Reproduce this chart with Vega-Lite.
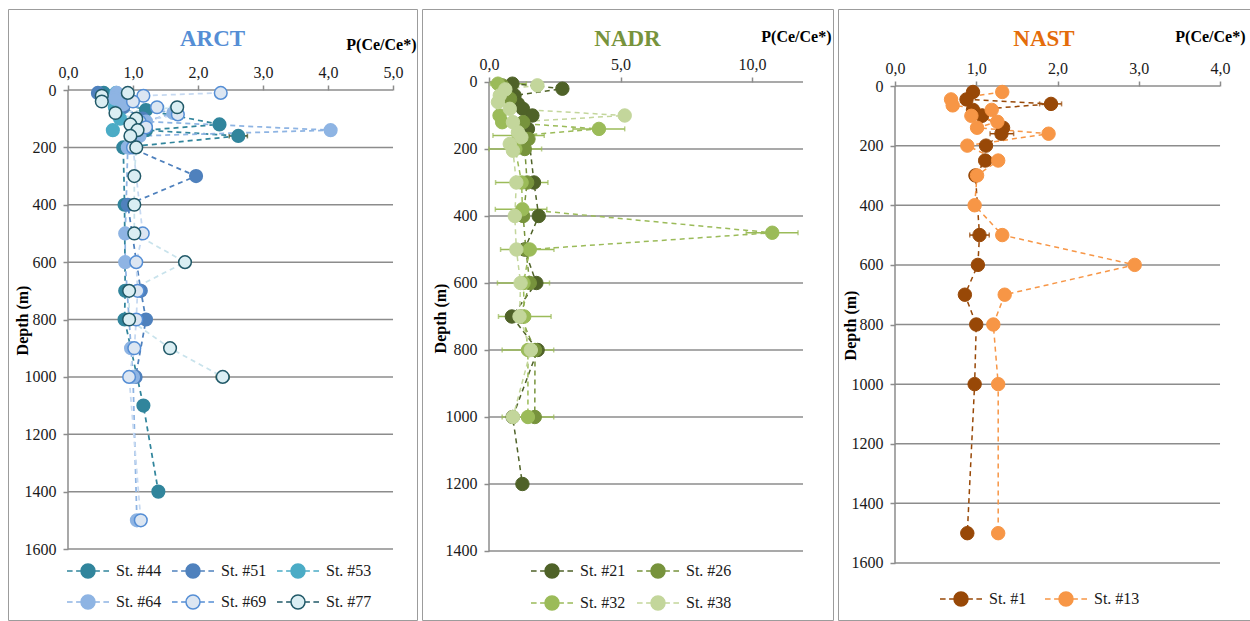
{
"$schema": "https://vega.github.io/schema/vega-lite/v6.json",
"padding": {"left": 7, "top": 8, "right": 0, "bottom": 0},
"spacing": 3,
"config": {
  "view": {"stroke": "#9C9C9C", "strokeWidth": 1},
  "font": "Liberation Serif",
  "style": {"guide-label": {"font": "Liberation Serif"}, "guide-title": {"font": "Liberation Serif"}},
  "axis": {"grid": false, "domain": false, "tickColor": "#8C8C8C", "tickWidth": 1.5, "tickSize": 5, "labelFont": "Liberation Serif", "labelFontSize": 16, "labelColor": "#1a1a1a", "labelFlush": false, "labelOverlap": false, "titleFont": "Liberation Serif", "titleFontSize": 16, "titleFontWeight": "bold", "titleColor": "#000000", "titleBaseline": "middle"},
  "legend": {"padding": 0, "labelFont": "Liberation Serif", "labelFontSize": 16, "labelColor": "#1a1a1a", "labelOffset": 20, "symbolSize": 196, "symbolStrokeWidth": 1.5, "direction": "horizontal", "symbolType": "M-3,0H-2.2M-1.7,0H-1M1,0H1.7M2.2,0H3M-1,0A1,1,0,1,0,1,0A1,1,0,1,0,-1,0Z"}
},
"datasets": {
  "g16": [{"g":0},{"g":200},{"g":400},{"g":600},{"g":800},{"g":1000},{"g":1200},{"g":1400},{"g":1600}],
  "g14": [{"g":0},{"g":200},{"g":400},{"g":600},{"g":800},{"g":1000},{"g":1200},{"g":1400}],
  "arct": [
    {"st":"St. #44","d":10,"v":0.55},{"st":"St. #44","d":40,"v":0.75},{"st":"St. #44","d":70,"v":1.2},{"st":"St. #44","d":120,"v":2.33},{"st":"St. #44","d":140,"v":1.2},{"st":"St. #44","d":160,"v":2.62,"lo":2.48,"hi":2.76},{"st":"St. #44","d":200,"v":0.85},{"st":"St. #44","d":400,"v":0.87},{"st":"St. #44","d":700,"v":0.88},{"st":"St. #44","d":800,"v":0.87},{"st":"St. #44","d":1100,"v":1.16},{"st":"St. #44","d":1400,"v":1.39},
    {"st":"St. #51","d":10,"v":0.46},{"st":"St. #51","d":30,"v":0.72},{"st":"St. #51","d":60,"v":0.85},{"st":"St. #51","d":100,"v":1.15},{"st":"St. #51","d":140,"v":1.05},{"st":"St. #51","d":200,"v":0.95},{"st":"St. #51","d":300,"v":1.97},{"st":"St. #51","d":400,"v":0.92},{"st":"St. #51","d":700,"v":1.12},{"st":"St. #51","d":800,"v":1.2},{"st":"St. #51","d":1000,"v":1.04},
    {"st":"St. #53","d":10,"v":0.74},{"st":"St. #53","d":30,"v":0.7},{"st":"St. #53","d":60,"v":0.72},{"st":"St. #53","d":100,"v":0.8},{"st":"St. #53","d":140,"v":0.69},
    {"st":"St. #64","d":10,"v":0.75},{"st":"St. #64","d":30,"v":0.72},{"st":"St. #64","d":50,"v":0.85},{"st":"St. #64","d":80,"v":1.62},{"st":"St. #64","d":110,"v":1.2},{"st":"St. #64","d":140,"v":4.04},{"st":"St. #64","d":160,"v":1.1},{"st":"St. #64","d":200,"v":0.92},{"st":"St. #64","d":500,"v":0.88},{"st":"St. #64","d":600,"v":0.88},{"st":"St. #64","d":900,"v":0.97},{"st":"St. #64","d":1000,"v":1.0},{"st":"St. #64","d":1500,"v":1.06},
    {"st":"St. #69","d":10,"v":2.35},{"st":"St. #69","d":20,"v":1.16},{"st":"St. #69","d":40,"v":1.0},{"st":"St. #69","d":60,"v":1.37},{"st":"St. #69","d":85,"v":1.69},{"st":"St. #69","d":110,"v":1.1},{"st":"St. #69","d":130,"v":1.2},{"st":"St. #69","d":200,"v":1.0},{"st":"St. #69","d":500,"v":1.15},{"st":"St. #69","d":600,"v":1.05},{"st":"St. #69","d":700,"v":1.07},{"st":"St. #69","d":800,"v":1.05},{"st":"St. #69","d":900,"v":1.02},{"st":"St. #69","d":1000,"v":0.94},{"st":"St. #69","d":1500,"v":1.12},
    {"st":"St. #77","d":10,"v":0.92},{"st":"St. #77","d":20,"v":0.52},{"st":"St. #77","d":40,"v":0.52},{"st":"St. #77","d":60,"v":1.68},{"st":"St. #77","d":80,"v":0.73},{"st":"St. #77","d":100,"v":1.05},{"st":"St. #77","d":120,"v":0.96},{"st":"St. #77","d":140,"v":1.07},{"st":"St. #77","d":160,"v":0.96},{"st":"St. #77","d":200,"v":1.05},{"st":"St. #77","d":300,"v":1.02},{"st":"St. #77","d":400,"v":1.02},{"st":"St. #77","d":500,"v":1.02},{"st":"St. #77","d":600,"v":1.8},{"st":"St. #77","d":700,"v":0.94},{"st":"St. #77","d":800,"v":0.94},{"st":"St. #77","d":900,"v":1.57},{"st":"St. #77","d":1000,"v":2.38,"lo":2.28,"hi":2.48}
  ],
  "nadr": [
    {"st":"St. #21","d":5,"v":0.89},{"st":"St. #21","d":20,"v":2.79},{"st":"St. #21","d":40,"v":0.97},{"st":"St. #21","d":65,"v":1.1},{"st":"St. #21","d":80,"v":1.29},{"st":"St. #21","d":100,"v":1.65},{"st":"St. #21","d":140,"v":1.48},{"st":"St. #21","d":300,"v":1.71},{"st":"St. #21","d":400,"v":1.89},{"st":"St. #21","d":500,"v":1.35},{"st":"St. #21","d":600,"v":1.8},{"st":"St. #21","d":700,"v":0.87},{"st":"St. #21","d":800,"v":1.85},{"st":"St. #21","d":1000,"v":0.9},{"st":"St. #21","d":1200,"v":1.27},
    {"st":"St. #26","d":10,"v":0.5},{"st":"St. #26","d":50,"v":0.8},{"st":"St. #26","d":120,"v":1.3},{"st":"St. #26","d":170,"v":1.5},{"st":"St. #26","d":200,"v":1.36},{"st":"St. #26","d":300,"v":1.45},{"st":"St. #26","d":400,"v":1.3},{"st":"St. #26","d":500,"v":1.4},{"st":"St. #26","d":600,"v":1.55},{"st":"St. #26","d":700,"v":1.2},{"st":"St. #26","d":800,"v":1.75},{"st":"St. #26","d":1000,"v":1.74},
    {"st":"St. #32","d":5,"v":0.34,"lo":0.05,"hi":1.42},{"st":"St. #32","d":100,"v":0.4},{"st":"St. #32","d":120,"v":0.5},{"st":"St. #32","d":140,"v":4.18,"lo":3.19,"hi":5.16},{"st":"St. #32","d":160,"v":1.13,"lo":0.15,"hi":2.1},{"st":"St. #32","d":200,"v":1.0,"lo":0.0,"hi":2.0},{"st":"St. #32","d":300,"v":1.24,"lo":0.25,"hi":2.24},{"st":"St. #32","d":380,"v":1.27,"lo":0.24,"hi":2.2},{"st":"St. #32","d":450,"v":10.77,"lo":9.78,"hi":11.75},{"st":"St. #32","d":500,"v":1.55,"lo":0.44,"hi":2.47},{"st":"St. #32","d":600,"v":1.31,"lo":0.32,"hi":2.3},{"st":"St. #32","d":700,"v":1.34,"lo":0.36,"hi":2.36},{"st":"St. #32","d":800,"v":1.48,"lo":0.5,"hi":2.46},{"st":"St. #32","d":1000,"v":1.48,"lo":0.5,"hi":2.46},
    {"st":"St. #38","d":10,"v":1.84},{"st":"St. #38","d":22,"v":0.62},{"st":"St. #38","d":40,"v":0.41},{"st":"St. #38","d":60,"v":0.34},{"st":"St. #38","d":80,"v":0.79},{"st":"St. #38","d":100,"v":5.16},{"st":"St. #38","d":120,"v":0.91},{"st":"St. #38","d":150,"v":1.1},{"st":"St. #38","d":165,"v":1.23},{"st":"St. #38","d":185,"v":0.79},{"st":"St. #38","d":205,"v":0.91},{"st":"St. #38","d":300,"v":1.04},{"st":"St. #38","d":400,"v":0.98},{"st":"St. #38","d":500,"v":1.04},{"st":"St. #38","d":600,"v":1.2},{"st":"St. #38","d":700,"v":1.16},{"st":"St. #38","d":800,"v":1.59},{"st":"St. #38","d":1000,"v":0.91}
  ],
  "nast": [
    {"st":"St. #1","d":20,"v":0.96},{"st":"St. #1","d":45,"v":0.88},{"st":"St. #1","d":60,"v":1.92,"lo":1.78,"hi":2.05},{"st":"St. #1","d":80,"v":0.96},{"st":"St. #1","d":100,"v":1.07,"lo":1.02,"hi":1.12},{"st":"St. #1","d":140,"v":1.33},{"st":"St. #1","d":160,"v":1.31,"lo":1.17,"hi":1.46},{"st":"St. #1","d":200,"v":1.12},{"st":"St. #1","d":250,"v":1.11,"lo":1.04,"hi":1.18},{"st":"St. #1","d":300,"v":0.99,"lo":0.92,"hi":1.06},{"st":"St. #1","d":500,"v":1.04,"lo":0.92,"hi":1.16},{"st":"St. #1","d":600,"v":1.02},{"st":"St. #1","d":700,"v":0.86},{"st":"St. #1","d":800,"v":1.0},{"st":"St. #1","d":1000,"v":0.98},{"st":"St. #1","d":1500,"v":0.89},
    {"st":"St. #13","d":20,"v":1.32},{"st":"St. #13","d":45,"v":0.69},{"st":"St. #13","d":65,"v":0.71},{"st":"St. #13","d":80,"v":1.19},{"st":"St. #13","d":100,"v":0.94},{"st":"St. #13","d":120,"v":1.26},{"st":"St. #13","d":140,"v":1.01},{"st":"St. #13","d":160,"v":1.89},{"st":"St. #13","d":200,"v":0.89},{"st":"St. #13","d":250,"v":1.27},{"st":"St. #13","d":300,"v":1.01},{"st":"St. #13","d":400,"v":0.98},{"st":"St. #13","d":500,"v":1.32},{"st":"St. #13","d":600,"v":2.95},{"st":"St. #13","d":700,"v":1.35},{"st":"St. #13","d":800,"v":1.21},{"st":"St. #13","d":1000,"v":1.27},{"st":"St. #13","d":1500,"v":1.27}
  ]
},
"resolve": {"scale": {"x": "independent", "y": "independent", "color": "independent", "fill": "independent", "stroke": "independent"}},
"hconcat": [
  {
    "width": 409, "height": 611,
    "title": {"text": "ARCT", "color": "#558ED5", "font": "Liberation Serif", "fontSize": 23, "fontWeight": "bold", "offset": -53, "baseline": "middle", "anchor": "middle", "frame": "group"},
    "layer": [
      {"data": {"name": "g16"}, "mark": {"type": "rule", "color": "#8C8C8C", "strokeWidth": 1.5},
       "encoding": {
         "y": {"field": "g", "type": "quantitative", "scale": {"domain": [-282.4, 1847.5], "nice": false, "zero": false, "reverse": true}, "axis": {"orient": "left", "offset": -60, "values": [0,200,400,600,800,1000,1200,1400,1600], "format": "d", "labelPadding": 7, "title": "Depth (m)", "titleX": -46, "titleY": 311, "titleAlign": "center"}},
         "x": {"datum": 0, "type": "quantitative", "scale": {"domain": [-0.923, 5.369], "nice": false, "zero": false}, "axis": {"orient": "top", "offset": -81, "values": [0,1,2,3,4,5], "labelExpr": "replace(format(datum.value,'.1f'),'.',',')", "labelPadding": 5, "title": "P(Ce/Ce*)", "titleX": 408, "titleY": -46, "titleAlign": "right"}},
         "x2": {"datum": 5}}},
      {"data": {"name": "g16"}, "mark": {"type": "rule", "color": "#8C8C8C", "strokeWidth": 1.5},
       "encoding": {"x": {"datum": 0, "type": "quantitative"}, "y": {"aggregate": "min", "field": "g", "type": "quantitative"}, "y2": {"aggregate": "max", "field": "g"}}},
      {"data": {"name": "arct"}, "transform": [{"filter": "isValid(datum.lo)"}], "mark": {"type": "errorbar", "ticks": true, "color": "#3F4A20", "thickness": 1.5},
       "encoding": {"x": {"field": "lo", "type": "quantitative", "title": "P(Ce/Ce*)"}, "x2": {"field": "hi"}, "y": {"field": "d", "type": "quantitative", "title": "Depth (m)"}}},
      {"data": {"name": "arct"}, "mark": {"type": "line", "strokeDash": [5, 4], "strokeWidth": 1.75},
       "encoding": {"x": {"field": "v", "type": "quantitative", "title": "P(Ce/Ce*)"}, "y": {"field": "d", "type": "quantitative", "title": "Depth (m)"}, "order": {"field": "d"},
         "color": {"field": "st", "type": "nominal", "scale": {"domain": ["St. #77","St. #69","St. #64","St. #53","St. #51","St. #44"], "range": ["#C9E3EC","#C6D9F1","#8EB4E3","#4BACC6","#4F81BD","#31859C"]}, "legend": null}}},
      {"data": {"name": "arct"}, "mark": {"type": "circle", "size": 160, "opacity": 1, "strokeWidth": 1.5},
       "encoding": {"x": {"field": "v", "type": "quantitative", "title": "P(Ce/Ce*)"}, "y": {"field": "d", "type": "quantitative", "title": "Depth (m)"},
         "fill": {"field": "st", "type": "nominal", "scale": {"domain": ["St. #44","St. #51","St. #53","St. #64","St. #69","St. #77"], "range": ["#31859C","#4F81BD","#4BACC6","#8EB4E3","#DCE6F2","#DAEEF3"]}, "legend": {"title": null, "orient": "none", "legendX": 72, "legendY": 554, "columns": 3, "direction": "horizontal", "rowPadding": 11, "columnPadding": 7, "labelFont": "Liberation Serif", "labelFontSize": 16}},
         "stroke": {"field": "st", "type": "nominal", "scale": {"domain": ["St. #44","St. #51","St. #53","St. #64","St. #69","St. #77"], "range": ["#31859C","#4F81BD","#4BACC6","#8EB4E3","#558ED5","#215968"]}, "legend": {"title": null, "orient": "none", "legendX": 72, "legendY": 554, "columns": 3, "direction": "horizontal", "rowPadding": 11, "columnPadding": 7, "labelFont": "Liberation Serif", "labelFontSize": 16}}}}
    ]
  },
  {
    "width": 411, "height": 611,
    "title": {"text": "NADR", "color": "#77933C", "font": "Liberation Serif", "fontSize": 23, "fontWeight": "bold", "offset": -53, "baseline": "middle", "anchor": "middle", "frame": "group"},
    "layer": [
      {"data": {"name": "g14"}, "mark": {"type": "rule", "color": "#8C8C8C", "strokeWidth": 1.5},
       "encoding": {
         "y": {"field": "g", "type": "quantitative", "scale": {"domain": [-217.9, 1606], "nice": false, "zero": false, "reverse": true}, "axis": {"orient": "left", "offset": -67, "values": [0,200,400,600,800,1000,1200,1400], "format": "d", "labelPadding": 7, "title": "Depth (m)", "titleX": -49, "titleY": 309, "titleAlign": "center"}},
         "x": {"datum": 0, "type": "quantitative", "scale": {"domain": [-2.548, 13.08], "nice": false, "zero": false}, "axis": {"orient": "top", "offset": -73, "values": [0,5,10], "labelExpr": "replace(format(datum.value,'.1f'),'.',',')", "labelPadding": 5, "title": "P(Ce/Ce*)", "titleX": 409, "titleY": -46, "titleAlign": "right"}},
         "x2": {"datum": 11.94}}},
      {"data": {"name": "g14"}, "mark": {"type": "rule", "color": "#8C8C8C", "strokeWidth": 1.5},
       "encoding": {"x": {"datum": 0, "type": "quantitative"}, "y": {"aggregate": "min", "field": "g", "type": "quantitative"}, "y2": {"aggregate": "max", "field": "g"}}},
      {"data": {"name": "nadr"}, "transform": [{"filter": "isValid(datum.lo)"}], "mark": {"type": "errorbar", "ticks": true, "color": "#9BBB59", "thickness": 1.5},
       "encoding": {"x": {"field": "lo", "type": "quantitative", "title": "P(Ce/Ce*)"}, "x2": {"field": "hi"}, "y": {"field": "d", "type": "quantitative", "title": "Depth (m)"}}},
      {"data": {"name": "nadr"}, "mark": {"type": "line", "strokeDash": [5, 4], "strokeWidth": 1.5},
       "encoding": {"x": {"field": "v", "type": "quantitative", "title": "P(Ce/Ce*)"}, "y": {"field": "d", "type": "quantitative", "title": "Depth (m)"}, "order": {"field": "d"},
         "color": {"field": "st", "type": "nominal", "scale": {"domain": ["St. #38","St. #32","St. #26","St. #21"], "range": ["#C3D69B","#9BBB59","#77933C","#4F6228"]}, "legend": null}}},
      {"data": {"name": "nadr"}, "mark": {"type": "circle", "size": 180, "opacity": 1, "strokeWidth": 1},
       "encoding": {"x": {"field": "v", "type": "quantitative", "title": "P(Ce/Ce*)"}, "y": {"field": "d", "type": "quantitative", "title": "Depth (m)"},
         "fill": {"field": "st", "type": "nominal", "scale": {"domain": ["St. #21","St. #26","St. #32","St. #38"], "range": ["#4F6228","#77933C","#9BBB59","#C3D69B"]}, "legend": {"title": null, "orient": "none", "legendX": 122, "legendY": 554, "columns": 2, "direction": "horizontal", "rowPadding": 12, "columnPadding": 8, "labelFont": "Liberation Serif", "labelFontSize": 16}},
         "stroke": {"field": "st", "type": "nominal", "scale": {"domain": ["St. #21","St. #26","St. #32","St. #38"], "range": ["#4F6228","#77933C","#9BBB59","#C3D69B"]}, "legend": {"title": null, "orient": "none", "legendX": 122, "legendY": 554, "columns": 2, "direction": "horizontal", "rowPadding": 12, "columnPadding": 8, "labelFont": "Liberation Serif", "labelFontSize": 16}}}}
    ]
  },
  {
    "width": 412, "height": 611,
    "title": {"text": "NAST", "color": "#E46C0A", "font": "Liberation Serif", "fontSize": 23, "fontWeight": "bold", "offset": -53, "baseline": "middle", "anchor": "middle", "frame": "group"},
    "layer": [
      {"data": {"name": "g16"}, "mark": {"type": "rule", "color": "#8C8C8C", "strokeWidth": 1.5},
       "encoding": {
         "y": {"field": "g", "type": "quantitative", "scale": {"domain": [-258.3, 1791.2], "nice": false, "zero": false, "reverse": true}, "axis": {"orient": "left", "offset": -57, "values": [0,200,400,600,800,1000,1200,1400,1600], "format": "d", "labelPadding": 7, "title": "Depth (m)", "titleX": -45, "titleY": 316, "titleAlign": "center"}},
         "x": {"datum": 0, "type": "quantitative", "scale": {"domain": [-0.7015, 4.369], "nice": false, "zero": false}, "axis": {"orient": "top", "offset": -77, "values": [0,1,2,3,4], "labelExpr": "replace(format(datum.value,'.1f'),'.',',')", "labelPadding": 5, "title": "P(Ce/Ce*)", "titleX": 407, "titleY": -50, "titleAlign": "right"}},
         "x2": {"datum": 4}}},
      {"data": {"name": "g16"}, "mark": {"type": "rule", "color": "#8C8C8C", "strokeWidth": 1.5},
       "encoding": {"x": {"datum": 0, "type": "quantitative"}, "y": {"aggregate": "min", "field": "g", "type": "quantitative"}, "y2": {"aggregate": "max", "field": "g"}}},
      {"data": {"name": "nast"}, "transform": [{"filter": "isValid(datum.lo)"}], "mark": {"type": "errorbar", "ticks": true, "color": "#984807", "thickness": 1.5},
       "encoding": {"x": {"field": "lo", "type": "quantitative", "title": "P(Ce/Ce*)"}, "x2": {"field": "hi"}, "y": {"field": "d", "type": "quantitative", "title": "Depth (m)"}}},
      {"data": {"name": "nast"}, "mark": {"type": "line", "strokeDash": [5, 4], "strokeWidth": 1.5},
       "encoding": {"x": {"field": "v", "type": "quantitative", "title": "P(Ce/Ce*)"}, "y": {"field": "d", "type": "quantitative", "title": "Depth (m)"}, "order": {"field": "d"},
         "color": {"field": "st", "type": "nominal", "scale": {"domain": ["St. #13","St. #1"], "range": ["#F79646","#984807"]}, "legend": null}}},
      {"data": {"name": "nast"}, "mark": {"type": "circle", "size": 180, "opacity": 1, "strokeWidth": 1},
       "encoding": {"x": {"field": "v", "type": "quantitative", "title": "P(Ce/Ce*)"}, "y": {"field": "d", "type": "quantitative", "title": "Depth (m)"},
         "fill": {"field": "st", "type": "nominal", "scale": {"domain": ["St. #1","St. #13"], "range": ["#984807","#F79646"]}, "legend": {"title": null, "orient": "none", "legendX": 115, "legendY": 582, "columns": 2, "direction": "horizontal", "columnPadding": 15, "labelFont": "Liberation Serif", "labelFontSize": 16}},
         "stroke": {"field": "st", "type": "nominal", "scale": {"domain": ["St. #1","St. #13"], "range": ["#984807","#F79646"]}, "legend": {"title": null, "orient": "none", "legendX": 115, "legendY": 582, "columns": 2, "direction": "horizontal", "columnPadding": 15, "labelFont": "Liberation Serif", "labelFontSize": 16}}}}
    ]
  }
]
}
